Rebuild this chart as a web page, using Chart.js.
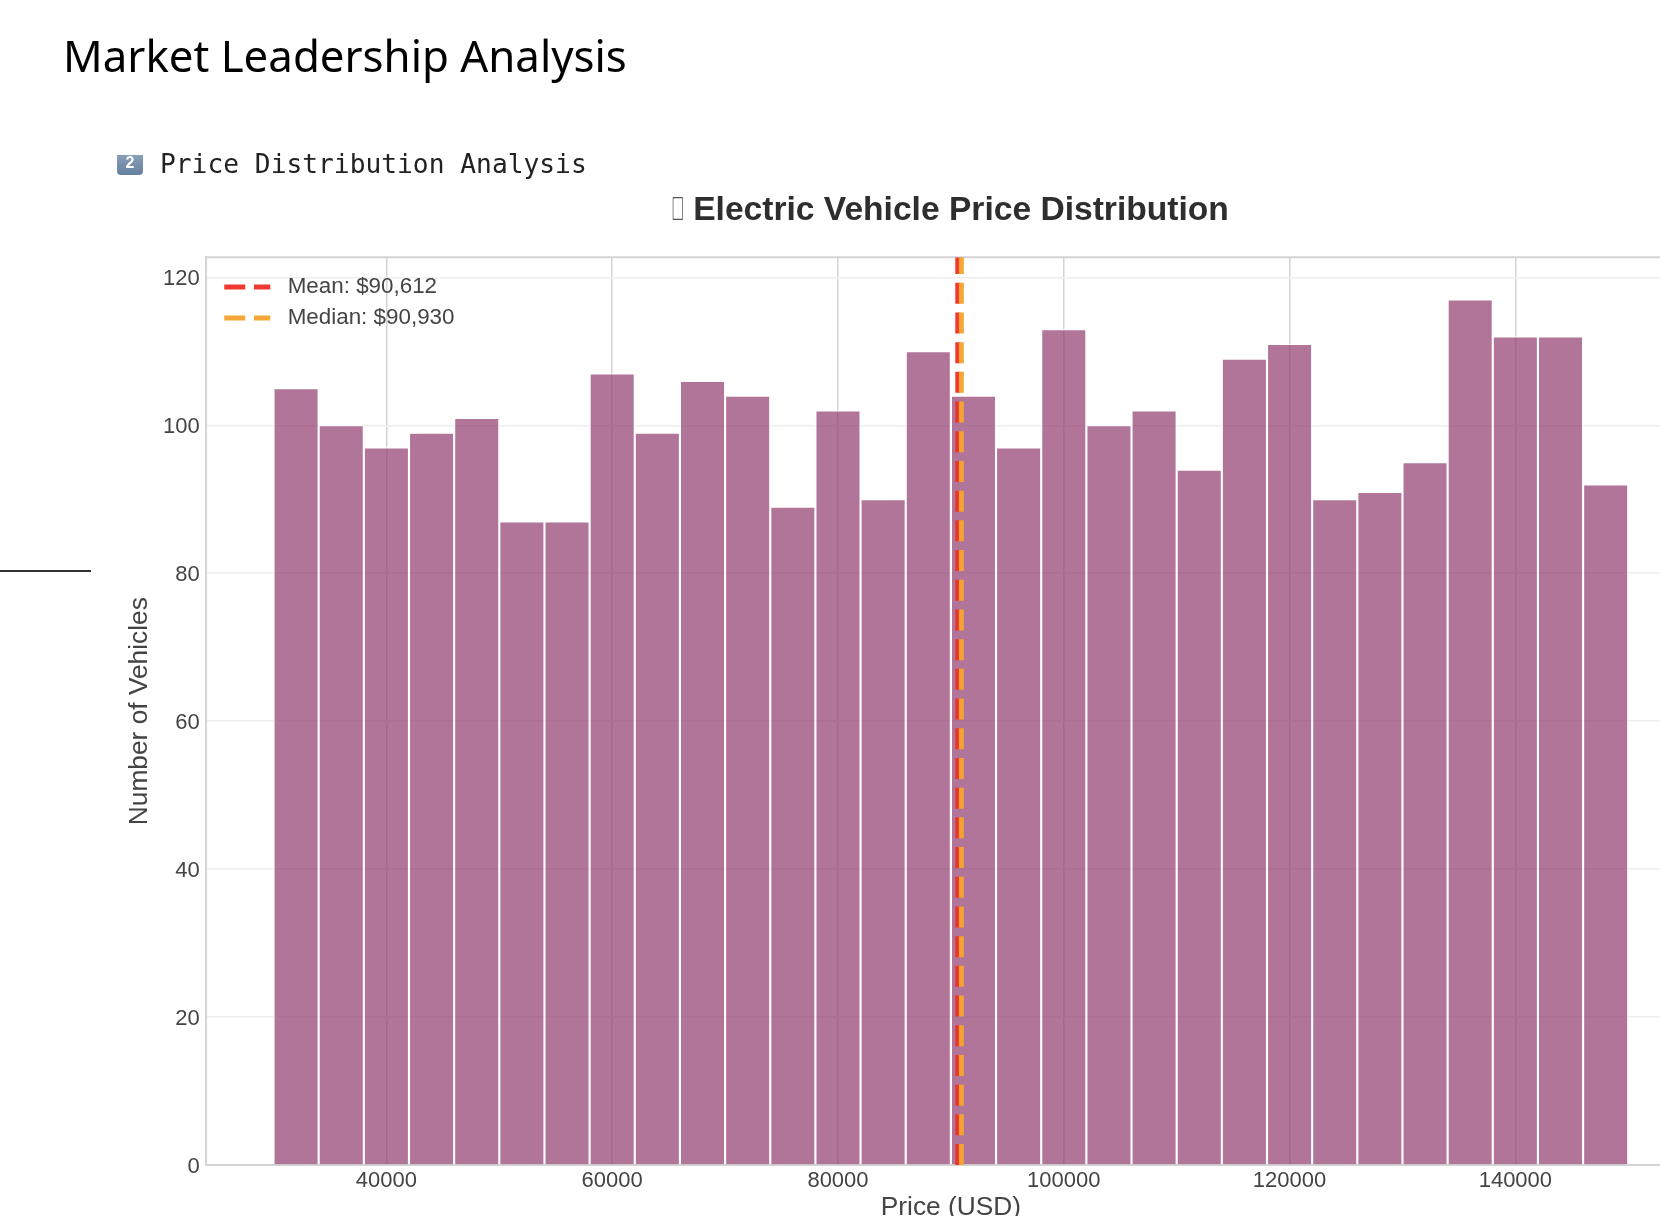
<!DOCTYPE html>
<html><head><meta charset="utf-8">
<style>
html,body{margin:0;padding:0;background:#fff;width:1660px;height:1216px;overflow:hidden;position:relative}
#wrap{position:absolute;left:0;top:0;width:1902px;height:1224px}
#main{position:absolute;left:63px;top:25px;font:43.8px "Noto Sans",sans-serif;color:#000;white-space:nowrap;z-index:2}
#sub{position:absolute;left:160px;top:149px;font:26.25px "DejaVu Sans Mono",monospace;color:#222;white-space:nowrap;z-index:2}
#badge{position:absolute;left:117px;top:155px;width:26px;height:20px;background:linear-gradient(#8a9fba,#64809f);border-radius:0 0 4px 4px;color:#fff;font:bold 16px "Liberation Sans",sans-serif;text-align:center;line-height:16px;z-index:2}
#rule{position:absolute;left:0;top:570px;width:91px;height:2px;background:#333;z-index:2}
#tofu{position:absolute;left:671px;top:190px;font:bold 33.6px "Liberation Sans",sans-serif;color:#555;transform:scaleX(.55);transform-origin:left center;z-index:2}
</style>
<script src="https://cdn.jsdelivr.net/npm/chart.js@4"></script>
</head><body>
<div id="main">Market Leadership Analysis</div>
<div id="badge">2</div>
<div id="sub">Price Distribution Analysis</div>
<div id="rule"></div>
<div id="tofu">&#xE000;</div>
<div id="wrap"><canvas id="c" width="1902" height="1224"></canvas></div>
<script>
const binCenters=[32000,36000,40000,44000,48000,52000,56000,60000,64000,68000,72000,76000,80000,84000,88000,92000,96000,100000,104000,108000,112000,116000,120000,124000,128000,132000,136000,140000,144000,148000];
const vehicleCounts=[105,100,97,99,101,87,87,107,99,106,104,89,102,90,110,104,97,113,100,102,94,109,111,90,91,95,117,112,112,92];
const xTickValues=[40000,60000,80000,100000,120000,140000];
const meanPrice=90612;
const medianPrice=90930;
const xMin=24000, xMax=156000, yMax=122.7;
const lineSpan=[0,yMax];
const fnt='"Liberation Sans",sans-serif';

const frame={id:'frame',
 beforeDatasetsDraw(ch){const a=ch.chartArea,g=ch.ctx;g.save();g.strokeStyle='#d4d4d4';g.lineWidth=2;g.beginPath();g.moveTo(a.left,a.top);g.lineTo(a.right,a.top);g.stroke();g.restore();},
 afterLayout(ch){const l=ch.legend,a=ch.chartArea;const w=l.width,h=l.height;l.left=a.left+10;l.top=a.top+10;l.right=l.left+w;l.bottom=l.top+h;
  ch.titleBlock.left=0;ch.titleBlock.right=ch.width+20;}
};

new Chart(document.getElementById('c'),{
 data:{datasets:[
  {type:'line',label:'Mean: $90,612',data:lineSpan.map(y=>({x:meanPrice,y})),borderColor:'rgba(238,50,40,0.97)',borderWidth:5,borderDash:[21,8.7],pointRadius:0,order:1,borderCapStyle:'butt'},
  {type:'line',label:'Median: $90,930',data:lineSpan.map(y=>({x:medianPrice,y})),borderColor:'rgba(245,165,50,0.97)',borderWidth:5,borderDash:[21,8.7],pointRadius:0,order:0,borderCapStyle:'butt'},
  {type:'bar',label:'',data:binCenters.map((x,i)=>({x,y:vehicleCounts[i]})),backgroundColor:'rgba(142,58,108,0.7)',borderColor:'rgba(255,255,255,0.72)',borderWidth:1.4,barPercentage:1,categoryPercentage:1,grouped:false,order:2}
 ]},
 options:{
  responsive:false,animation:false,
  layout:{padding:{left:124,right:206,top:0,bottom:0}},
  plugins:{
   title:{display:true,text:'Electric Vehicle Price Distribution',font:{family:fnt,size:33.6,weight:'bold'},color:'#2e2e2e',padding:{top:191,bottom:26}},
   legend:{display:true,position:'chartArea',align:'start',
    labels:{usePointStyle:true,pointStyle:'line',pointStyleWidth:46,boxHeight:10,font:{family:fnt,size:22.4},color:'#444',padding:8.5,
     sort:(a,b)=>a.datasetIndex-b.datasetIndex,
     filter:l=>l.text.trim()!=='',
     generateLabels(ch){return Chart.defaults.plugins.legend.labels.generateLabels(ch).map(it=>{const d=ch.data.datasets[it.datasetIndex];return {...it,text:' '+it.text,lineDash:d.borderDash,lineWidth:d.borderWidth};});}}},
   tooltip:{enabled:false}
  },
  scales:{
   x:{type:'linear',min:xMin,max:xMax,offset:false,
    afterBuildTicks:s=>{s.ticks=xTickValues.map(value=>({value}));},
    grid:{offset:false,color:'#d4d4d4',lineWidth:1.5,drawTicks:false},border:{color:'#d4d4d4',width:2},
    ticks:{maxRotation:0,autoSkip:false,padding:3,color:'#444',font:{family:fnt,size:22},callback:v=>String(v)},
    title:{display:true,text:'Price (USD)',color:'#444',font:{family:fnt,size:26.3},padding:{top:-5,bottom:0}}},
   y:{type:'linear',min:0,max:yMax,
    grid:{color:'#eeeeee',lineWidth:1.5,drawTicks:false},border:{color:'#d4d4d4',width:2},
    ticks:{stepSize:20,includeBounds:false,padding:6,labelOffset:2,color:'#444',font:{family:fnt,size:22}},
    title:{display:true,text:'Number of Vehicles',color:'#444',font:{family:fnt,size:26.3},padding:{top:0,bottom:1.5}}}
  }
 },
 plugins:[frame]
});
</script>
</body></html>
